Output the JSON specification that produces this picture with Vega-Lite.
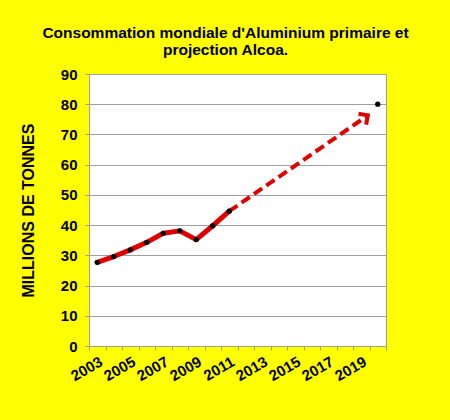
{
  "$schema": "https://vega.github.io/schema/vega-lite/v6.json",
  "width": 297,
  "height": 272,
  "padding": {"left": 20, "top": 25, "right": 52, "bottom": 40},
  "background": "#ffff00",
  "title": {
    "text": ["Consommation mondiale d'Aluminium primaire et", "projection Alcoa."],
    "font": "Liberation Sans",
    "fontSize": 15.5,
    "fontWeight": "bold",
    "color": "#000000",
    "lineHeight": 17,
    "anchor": "middle",
    "dx": -12,
    "offset": 9
  },
  "config": {
    "view": {"fill": "#ffffff", "stroke": "#a0a090", "strokeWidth": 1},
    "axis": {
      "labelFont": "Liberation Sans",
      "labelFontSize": 15,
      "labelFontWeight": "bold",
      "labelColor": "#000000",
      "labelOverlap": false,
      "labelFlush": false,
      "titleFont": "Liberation Sans",
      "titleFontSize": 16,
      "titleFontWeight": "bold",
      "titleColor": "#000000",
      "domainColor": "#a0a090",
      "tickColor": "#a0a090"
    }
  },
  "data": {
    "values": [
      {"year": 2003, "value": 27.7, "series": "Consommation"},
      {"year": 2004, "value": 29.6, "series": "Consommation"},
      {"year": 2005, "value": 31.8, "series": "Consommation"},
      {"year": 2006, "value": 34.3, "series": "Consommation"},
      {"year": 2007, "value": 37.3, "series": "Consommation"},
      {"year": 2008, "value": 38.1, "series": "Consommation"},
      {"year": 2009, "value": 35.2, "series": "Consommation"},
      {"year": 2010, "value": 39.8, "series": "Consommation"},
      {"year": 2011, "value": 44.6, "series": "Consommation"},
      {"year": 2020, "value": 80, "series": "Projection"},
      {"year": 2011, "value": 44.6, "series": "Tendance"},
      {"year": 2019.4, "value": 76.3, "series": "Tendance"}
    ]
  },
  "encoding": {
    "y": {
      "field": "value", "type": "quantitative",
      "scale": {"domain": [0, 90], "nice": false},
      "axis": {
        "title": "MILLIONS DE TONNES",
        "values": [0, 10, 20, 30, 40, 50, 60, 70, 80, 90],
        "grid": true,
        "gridColor": "#a0a0a0",
        "tickSize": 4,
        "labelPadding": 8,
        "titlePadding": 24
      }
    }
  },
  "resolve": {"axis": {"x": "independent"}},
  "layer": [
    {
      "transform": [{"filter": "datum.series === 'Consommation'"}],
      "mark": {"type": "line", "color": "#e00000", "strokeWidth": 5, "strokeJoin": "round", "strokeCap": "round"},
      "encoding": {
        "x": {
          "field": "year", "type": "quantitative",
          "scale": {"domain": [2002.5, 2020.5], "nice": false, "zero": false},
          "axis": {
            "orient": "bottom",
            "title": null,
            "values": [2003, 2005, 2007, 2009, 2011, 2013, 2015, 2017, 2019],
            "format": "d",
            "labelAngle": -30,
            "ticks": false,
            "grid": false,
            "labelPadding": 8,
            "domain": true
          }
        }
      }
    },
    {
      "transform": [{"filter": "datum.series === 'Tendance'"}],
      "mark": {"type": "line", "color": "#e00000", "strokeWidth": 4, "strokeDash": [10, 5]},
      "encoding": {
        "x": {"field": "year", "type": "quantitative", "axis": null}
      }
    },
    {
      "transform": [{"filter": "datum.series === 'Tendance' && datum.year > 2015"}],
      "mark": {"type": "point", "shape": "M -1 -1 L 0 0 L -1 1", "filled": false, "stroke": "#e00000", "strokeWidth": 4, "size": 180, "angle": -34.6, "opacity": 1},
      "encoding": {
        "x": {"field": "year", "type": "quantitative", "axis": null}
      }
    },
    {
      "transform": [{"filter": "datum.series !== 'Tendance'"}],
      "mark": {"type": "circle", "color": "#000000", "size": 28, "opacity": 1},
      "encoding": {
        "x": {
          "field": "year", "type": "quantitative",
          "axis": {
            "orient": "bottom",
            "title": null,
            "values": [2002.5, 2003.5, 2004.5, 2005.5, 2006.5, 2007.5, 2008.5, 2009.5, 2010.5, 2011.5, 2012.5, 2013.5, 2014.5, 2015.5, 2016.5, 2017.5, 2018.5, 2019.5, 2020.5],
            "labels": false,
            "domain": false,
            "grid": false,
            "ticks": true,
            "tickSize": 4
          }
        }
      }
    }
  ]
}
